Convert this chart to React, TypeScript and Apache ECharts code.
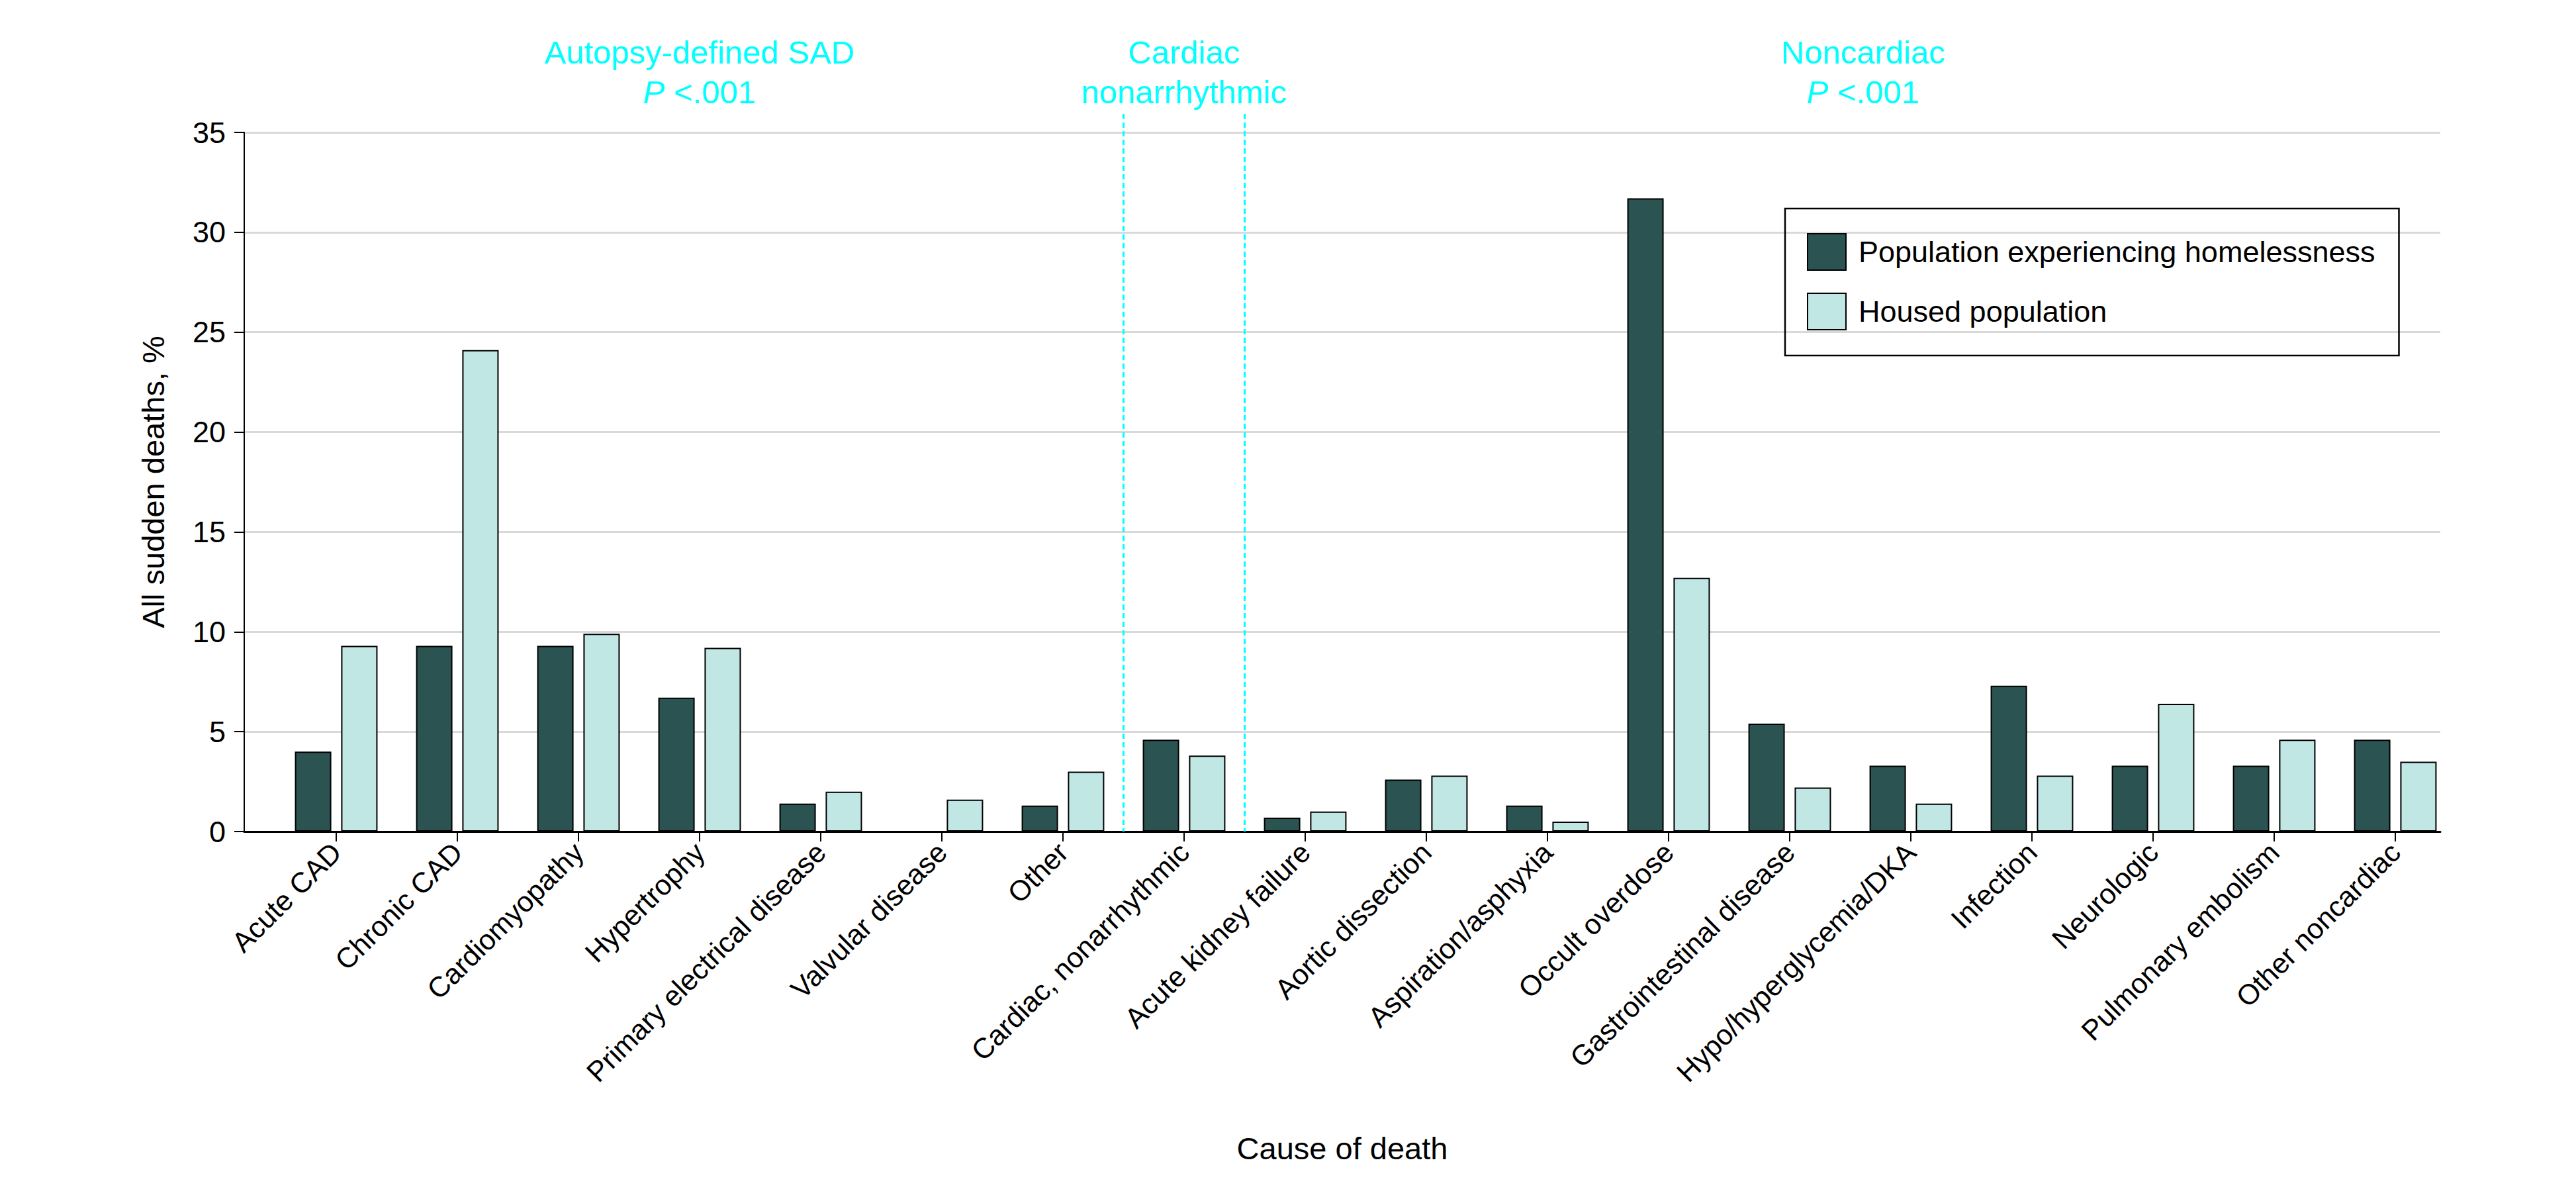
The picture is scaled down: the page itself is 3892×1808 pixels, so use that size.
import React, { useEffect, useRef } from 'react';
import * as echarts from 'echarts';

const categories = [
  'Acute CAD',
  'Chronic CAD',
  'Cardiomyopathy',
  'Hypertrophy',
  'Primary electrical disease',
  'Valvular disease',
  'Other',
  'Cardiac, nonarrhythmic',
  'Acute kidney failure',
  'Aortic dissection',
  'Aspiration/asphyxia',
  'Occult overdose',
  'Gastrointestinal disease',
  'Hypo/hyperglycemia/DKA',
  'Infection',
  'Neurologic',
  'Pulmonary embolism',
  'Other noncardiac',
];

const homeless = [4.0, 9.3, 9.3, 6.7, 1.4, 0, 1.3, 4.6, 0.7, 2.6, 1.3, 31.7, 5.4, 3.3, 7.3, 3.3, 3.3, 4.6];
const housed = [9.3, 24.1, 9.9, 9.2, 2.0, 1.6, 3.0, 3.8, 1.0, 2.8, 0.5, 12.7, 2.2, 1.4, 2.8, 6.4, 4.6, 3.5];

const seriesNames = ['Population experiencing homelessness', 'Housed population'];
const yMin = 0;
const yMax = 35;
const yInterval = 5;

const groupTitles = [
  { line1: 'Autopsy-defined SAD', line2: '{i|P} <.001' },
  { line1: 'Cardiac', line2: 'nonarrhythmic' },
  { line1: 'Noncardiac', line2: '{i|P} <.001' },
];

const FONT = 'Liberation Sans, Arial, sans-serif';
const CYAN = '#00ffff';
const DARK = '#2b5351';
const LIGHT = '#c1e7e5';

export default function App() {
  const ref = useRef<HTMLDivElement>(null);

  useEffect(() => {
    document.body.style.margin = '0';
    const chart = echarts.init(ref.current!, null, { renderer: 'svg' });

    const option: any = {
      animation: false,
      backgroundColor: '#ffffff',
      textStyle: { fontFamily: FONT },
      grid: [
        { left: 369, right: 205, top: 200, bottom: 552 },
        { left: 416.5, right: 181.5, top: 200, bottom: 552 },
      ],
      legend: {
        data: seriesNames,
        orient: 'vertical',
        left: 2697,
        top: 315,
        itemWidth: 58,
        itemHeight: 55,
        itemGap: 33,
        padding: [37, 36, 38, 33],
        borderColor: '#000',
        borderWidth: 2.5,
        icon: 'rect',
        textStyle: { fontSize: 45, color: '#000', fontFamily: FONT, padding: [0, 0, 0, 14] },
      },
      xAxis: [
        {
          type: 'value',
          gridIndex: 0,
          min: 0,
          max: 1,
          axisLine: { show: true, onZero: false, lineStyle: { color: '#000', width: 3 } },
          axisTick: { show: false },
          axisLabel: { show: false },
          splitLine: { show: false },
          name: 'Cause of death',
          nameLocation: 'middle',
          nameGap: 455,
          nameTextStyle: { fontSize: 47, color: '#000', fontFamily: FONT },
        },
        {
          type: 'category',
          gridIndex: 1,
          data: categories,
          axisLine: { show: false },
          axisTick: { show: true, alignWithLabel: true, length: 15, lineStyle: { color: '#000', width: 2 } },
          axisLabel: {
            rotate: 45,
            interval: 0,
            margin: 24,
            fontSize: 43,
            color: '#000',
            fontFamily: FONT,
          },
        },
      ],
      yAxis: [
        {
          type: 'value',
          gridIndex: 0,
          min: yMin,
          max: yMax,
          interval: yInterval,
          axisLine: { show: true, lineStyle: { color: '#000', width: 2 } },
          axisTick: { show: true, length: 15, lineStyle: { color: '#000', width: 2 } },
          axisLabel: { fontSize: 45, color: '#000', margin: 28, fontFamily: FONT },
          splitLine: { show: true, lineStyle: { color: '#d9d9d9', width: 3 } },
          name: 'All sudden deaths, %',
          nameLocation: 'middle',
          nameGap: 114,
          nameTextStyle: { fontSize: 47, color: '#000', fontFamily: FONT },
        },
        {
          type: 'value',
          gridIndex: 1,
          min: yMin,
          max: yMax,
          interval: yInterval,
          show: false,
        },
      ],
      series: [
        {
          name: seriesNames[0],
          type: 'bar',
          xAxisIndex: 1,
          yAxisIndex: 1,
          data: homeless,
          barWidth: 55,
          barGap: '27%',
          itemStyle: { color: DARK, borderColor: '#000', borderWidth: 2 },
        },
        {
          name: seriesNames[1],
          type: 'bar',
          xAxisIndex: 1,
          yAxisIndex: 1,
          data: housed,
          barWidth: 55,
          barGap: '27%',
          itemStyle: { color: LIGHT, borderColor: '#000', borderWidth: 2 },
        },
      ],
    };

    chart.setOption(option);

    const px = (i: number) => chart.convertToPixel({ xAxisIndex: 1 }, i) as number;
    const bw = px(1) - px(0);
    const b1 = (px(6) + px(7)) / 2;
    const b2 = (px(7) + px(8)) / 2;
    const top = 172;
    const base = chart.convertToPixel({ yAxisIndex: 1 }, 0) as number;
    const groupCenters = [(px(0) - bw / 2 + b1) / 2, px(7), 2815];

    const graphics: any[] = [];
    [b1, b2].forEach((x) => {
      graphics.push({
        type: 'line',
        shape: { x1: x, y1: top, x2: x, y2: base },
        style: { stroke: CYAN, lineWidth: 3, lineDash: [8, 5] },
        z: 10,
      });
    });
    groupTitles.forEach((g, i) => {
      graphics.push({
        type: 'text',
        x: groupCenters[i],
        y: 79,
        style: {
          text: g.line1,
          fill: CYAN,
          font: `49px ${FONT}`,
          textAlign: 'center',
          textVerticalAlign: 'middle',
        },
      });
      graphics.push({
        type: 'text',
        x: groupCenters[i],
        y: 139,
        style: {
          text: g.line2,
          fill: CYAN,
          fontSize: 49,
          fontFamily: FONT,
          textAlign: 'center',
          textVerticalAlign: 'middle',
          rich: { i: { fontStyle: 'italic', fontSize: 49, fontFamily: FONT, fill: CYAN } },
        },
      });
    });
    chart.setOption({ graphic: graphics });

    return () => chart.dispose();
  }, []);

  return <div ref={ref} style={{ width: 3892, height: 1808 }} />;
}
